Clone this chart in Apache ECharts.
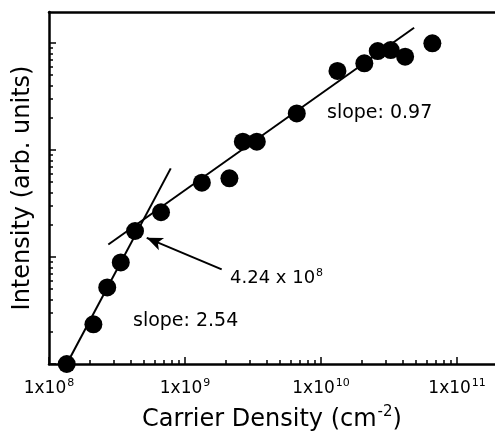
<!DOCTYPE html>
<html>
<head>
<meta charset="utf-8">
<script src="https://cdn.jsdelivr.net/npm/echarts@6/dist/echarts.min.js"></script>
<style>
  html, body { margin: 0; padding: 0; background: #fff; }
  #chart { width: 495px; height: 433px; }
</style>
</head>
<body>
<div id="chart"></div>
<script>
// measured points: carrier density (cm^-2) vs intensity (arb. units)
const density = [1.35e8, 2.12e8, 2.68e8, 3.37e8, 4.29e8, 6.66e8, 1.33e9, 2.12e9, 2.66e9, 3.37e9,
  6.63e9, 1.32e10, 2.08e10, 2.61e10, 3.25e10, 4.15e10, 6.58e10];
const intensity = [1.0, 2.35, 5.2, 8.9, 17.5, 26.2, 49.5, 54.4, 119.6, 119.6,
  220, 548, 646, 842, 860, 745, 993];

// fitted lines (end points)
const fitLowX = [1.35e8, 7.85e8];
const fitLowY = [1.0, 67.4];
const fitHighX = [2.73e8, 4.83e10];
const fitHighY = [13.1, 1390];

// arrow pointing at the crossing
const arrowFrom = [1.86e9, 7.67];
const arrowTo = [5.23e8, 15.1];

const xMajor = [1e8, 1e9, 1e10, 1e11];
const yMajor = [1, 10, 100, 1000];

const minorsOf = (majors, last) => {
  const out = [];
  majors.forEach((m) => {
    for (let k = 2; k <= 9; k++) if (m * k <= last) out.push(m * k);
  });
  return out;
};

const xMin = 1e8, xMax = 1.9e11;
const yMin = 1, yMax = 1950;

const chart = echarts.init(document.getElementById('chart'));
const font = 'DejaVu Sans, Arial, sans-serif';

const supStyle = (size, pad) => ({ fontSize: size, verticalAlign: 'top', padding: [0, 0, pad, 1], fontFamily: font, color: '#000' });

const option = {
  animation: false,
  grid: { left: 49, top: 12, right: 0, bottom: 69, outerBoundsMode: 'none' },
  xAxis: [
    {
      type: 'log', logBase: 10, min: xMin, max: xMax, position: 'bottom',
      axisLine: { show: true, lineStyle: { color: '#000', width: 2.5 } },
      axisTick: { show: true, inside: true, length: 7, customValues: xMajor, lineStyle: { color: '#000', width: 1.5 } },
      axisLabel: {
        show: true, customValues: xMajor, margin: 14, color: '#000',
        fontFamily: font, fontSize: 17,
        formatter: (v) => '1x10{sup|' + Math.round(Math.log10(v)) + '}',
        rich: { sup: supStyle(11, 11) }
      },
      splitLine: { show: false },
      name: 'Carrier Density (cm{sup|-2})',
      nameLocation: 'middle', nameGap: 41,
      nameTextStyle: {
        color: '#000', fontFamily: font, fontSize: 24,
        rich: { sup: supStyle(15, 15) }
      }
    },
    {
      type: 'log', logBase: 10, min: xMin, max: xMax, position: 'bottom',
      axisLine: { show: false },
      axisTick: { show: true, inside: true, length: 4, customValues: minorsOf(xMajor, xMax), lineStyle: { color: '#000', width: 1.5 } },
      axisLabel: { show: false },
      splitLine: { show: false }
    },
    {
      type: 'log', logBase: 10, min: xMin, max: xMax, position: 'top',
      axisLine: { show: true, lineStyle: { color: '#000', width: 2.5 } },
      axisTick: { show: false }, axisLabel: { show: false }, splitLine: { show: false }
    }
  ],
  yAxis: [
    {
      type: 'log', logBase: 10, min: yMin, max: yMax, position: 'left',
      axisLine: { show: true, lineStyle: { color: '#000', width: 2.5 } },
      axisTick: { show: true, inside: true, length: 7, customValues: yMajor, lineStyle: { color: '#000', width: 1.5 } },
      axisLabel: { show: false },
      splitLine: { show: false },
      name: 'Intensity (arb. units)',
      nameLocation: 'middle', nameGap: 14, nameRotate: 90,
      nameTextStyle: { color: '#000', fontFamily: font, fontSize: 24 }
    },
    {
      type: 'log', logBase: 10, min: yMin, max: yMax, position: 'left', offset: 0,
      axisLine: { show: false, onZero: false },
      axisTick: { show: true, inside: true, length: 4, customValues: minorsOf(yMajor, yMax), lineStyle: { color: '#000', width: 1.5 } },
      axisLabel: { show: false },
      splitLine: { show: false }
    }
  ],
  series: [
    {
      type: 'line', data: fitLowX.map((x, i) => [x, fitLowY[i]]),
      symbol: 'none', lineStyle: { color: '#000', width: 2 }, clip: false
    },
    {
      type: 'line', data: fitHighX.map((x, i) => [x, fitHighY[i]]),
      symbol: 'none', lineStyle: { color: '#000', width: 2 }, clip: false,
      markLine: {
        silent: true, symbol: ['none', 'arrow'], symbolSize: [10, 16],
        lineStyle: { color: '#000', width: 2, type: 'solid' },
        label: { show: false },
        data: [[{ coord: arrowFrom }, { coord: arrowTo }]]
      }
    },
    {
      type: 'scatter', data: density.map((x, i) => [x, intensity[i]]),
      symbol: 'circle', symbolSize: 18, itemStyle: { color: '#000', opacity: 1 }, clip: false
    }
  ],
  graphic: [
    { type: 'text', left: 327, top: 104, style: { text: 'slope: 0.97', fontFamily: font, fontSize: 19, fill: '#000' } },
    { type: 'text', left: 133, top: 312, style: { text: 'slope: 2.54', fontFamily: font, fontSize: 19, fill: '#000' } },
    {
      type: 'text', left: 230, top: 268,
      style: {
        text: '4.24 x 10{sup|8}', fontFamily: font, fontSize: 18, fill: '#000',
        rich: { sup: { fontSize: 11, verticalAlign: 'top', padding: [0, 0, 10, 1], fontFamily: font, fill: '#000' } }
      }
    }
  ]
};

chart.setOption(option);
</script>
</body>
</html>
